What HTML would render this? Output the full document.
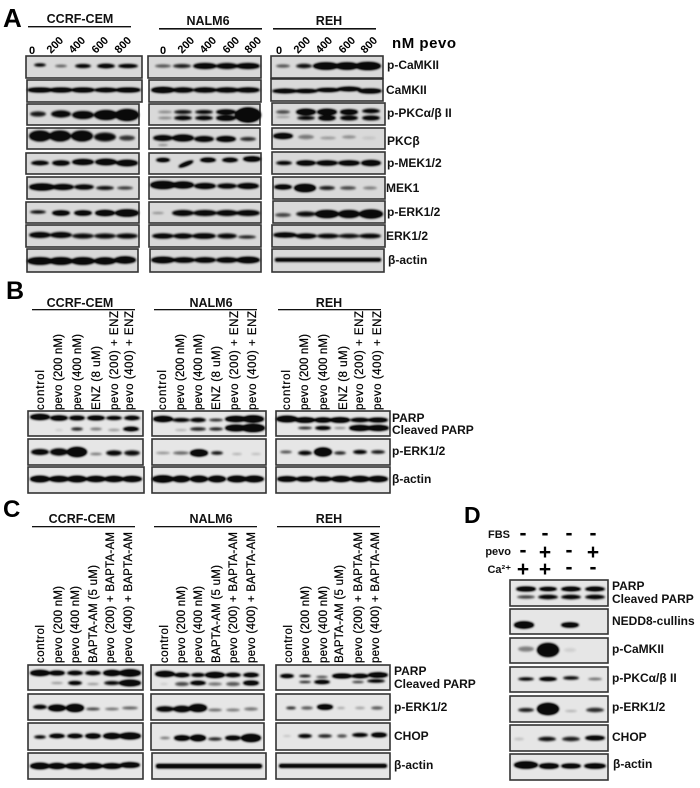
<!DOCTYPE html>
<html><head><meta charset="utf-8"><style>
html,body{margin:0;padding:0;background:#fff}
svg{display:block}
text{font-family:"Liberation Sans",sans-serif;fill:#000}
.h{font-weight:bold;font-size:12.5px;text-anchor:middle;fill:#111}
.l{font-weight:bold;font-size:12px;fill:#111}
.n{font-weight:bold;font-size:11px}
.v{font-size:11.5px;stroke:#000;stroke-width:.25}
.b{fill:#d9d9d9;stroke:#333;stroke-width:1.6}
.c{fill:#e6e6e6;stroke:#333;stroke-width:1.6}
.P{font-weight:bold;font-size:26px}
.s{font-weight:bold;font-size:21px;text-anchor:middle}
</style></head><body>
<svg width="700" height="788" viewBox="0 0 700 788" xmlns="http://www.w3.org/2000/svg">
<defs><filter id="f" x="-5%" y="-5%" width="110%" height="110%" color-interpolation-filters="sRGB"><feGaussianBlur stdDeviation="1"/><feComponentTransfer><feFuncA type="linear" slope="1.35"/></feComponentTransfer></filter></defs>

<!-- Panel A -->
<text class="P" x="3" y="27">A</text>
<text class="h" x="80" y="23">CCRF-CEM</text><text class="h" x="208" y="25">NALM6</text><text class="h" x="329" y="25">REH</text>
<rect x="28" y="26" width="103" height="1.4" fill="#111"/><rect x="159" y="28" width="103" height="1.6" fill="#111"/><rect x="273" y="28" width="103" height="1.6" fill="#111"/>
<text class="n" x="29" y="54">0</text><text class="n" transform="translate(51,54) rotate(-45)">200</text><text class="n" transform="translate(73,54) rotate(-45)">400</text><text class="n" transform="translate(96,54) rotate(-45)">600</text><text class="n" transform="translate(119,54) rotate(-45)">800</text>
<text class="n" x="160" y="54">0</text><text class="n" transform="translate(182,54) rotate(-45)">200</text><text class="n" transform="translate(204,54) rotate(-45)">400</text><text class="n" transform="translate(227,54) rotate(-45)">600</text><text class="n" transform="translate(249,54) rotate(-45)">800</text>
<text class="n" x="276" y="54">0</text><text class="n" transform="translate(298,54) rotate(-45)">200</text><text class="n" transform="translate(320,54) rotate(-45)">400</text><text class="n" transform="translate(343,54) rotate(-45)">600</text><text class="n" transform="translate(365,54) rotate(-45)">800</text>
<text x="392" y="48" font-weight="bold" font-size="15" textLength="64">nM pevo</text>

<rect class="b" x="26" y="56" width="116" height="22"/><rect class="b" x="27" y="80" width="115" height="22"/><rect class="b" x="27" y="104" width="112" height="21"/><rect class="b" x="27" y="128" width="112" height="21"/><rect class="b" x="26" y="153" width="113" height="21"/><rect class="b" x="27" y="177" width="112" height="22"/><rect class="b" x="26" y="202" width="113" height="21"/><rect class="b" x="26" y="225" width="113" height="22"/><rect class="b" x="27" y="249" width="111" height="23"/>
<rect class="b" x="148" y="56" width="113" height="22"/><rect class="b" x="149" y="80" width="112" height="22"/><rect class="b" x="149" y="104" width="111" height="21"/><rect class="b" x="149" y="128" width="111" height="21"/><rect class="b" x="149" y="153" width="112" height="21"/><rect class="b" x="149" y="177" width="112" height="22"/><rect class="b" x="149" y="202" width="112" height="21"/><rect class="b" x="149" y="225" width="112" height="22"/><rect class="b" x="150" y="249" width="111" height="23"/>
<rect class="b" x="271" y="56" width="112" height="22"/><rect class="b" x="271" y="79" width="112" height="22"/><rect class="b" x="272" y="103" width="113" height="22"/><rect class="b" x="272" y="128" width="113" height="21"/><rect class="b" x="272" y="152" width="113" height="22"/><rect class="b" x="273" y="177" width="112" height="22"/><rect class="b" x="273" y="201" width="112" height="22"/><rect class="b" x="272" y="225" width="113" height="22"/><rect class="b" x="272" y="249" width="112" height="23"/>

<g filter="url(#f)" fill="#0a0a0a">
<ellipse cx="40" cy="65" rx="6" ry="1.6" opacity=".85"/><ellipse cx="61" cy="66" rx="6" ry="1.2" opacity=".5"/><ellipse cx="83" cy="66" rx="8" ry="2" opacity=".85"/><ellipse cx="106" cy="66" rx="9" ry="2.2" opacity=".9"/><ellipse cx="128" cy="66" rx="10" ry="2" opacity=".9"/>
<ellipse cx="40" cy="90" rx="13" ry="2.4"/><ellipse cx="61" cy="90" rx="12" ry="2.4"/><ellipse cx="83" cy="90" rx="12" ry="2.4"/><ellipse cx="106" cy="90" rx="12" ry="2.2"/><ellipse cx="128" cy="90" rx="13" ry="2.4"/>
<ellipse cx="38" cy="114" rx="8" ry="2.6" opacity=".7"/><ellipse cx="61" cy="114" rx="10" ry="3.6" opacity=".8"/><ellipse cx="83" cy="115" rx="11" ry="4" opacity=".85"/><ellipse cx="106" cy="115" rx="12" ry="5" opacity=".9"/><ellipse cx="127" cy="115" rx="12" ry="6" opacity=".92"/>
<ellipse cx="40" cy="136" rx="11" ry="5.5" opacity=".85"/><ellipse cx="60" cy="136" rx="11" ry="5.5" opacity=".85"/><ellipse cx="82" cy="136" rx="11" ry="5.5" opacity=".85"/><ellipse cx="105" cy="137" rx="11" ry="4.5" opacity=".75"/><ellipse cx="127" cy="138" rx="8" ry="2.6" opacity=".6"/>
<ellipse cx="40" cy="163" rx="9" ry="2.2" opacity=".9"/><ellipse cx="61" cy="163" rx="9" ry="2.6" opacity=".9"/><ellipse cx="83" cy="162" rx="11" ry="3" opacity=".95"/><ellipse cx="106" cy="162" rx="11" ry="3.2" opacity=".95"/><ellipse cx="127" cy="163" rx="11" ry="3.2" opacity=".95"/>
<ellipse cx="42" cy="187" rx="13" ry="3.5" opacity=".95"/><ellipse cx="63" cy="187" rx="11" ry="3" opacity=".9"/><ellipse cx="84" cy="187" rx="10" ry="2.6" opacity=".85"/><ellipse cx="105" cy="188" rx="9" ry="2" opacity=".75"/><ellipse cx="125" cy="188" rx="8" ry="1.6" opacity=".6"/>
<ellipse cx="38" cy="212" rx="8" ry="1.6" opacity=".8"/><ellipse cx="61" cy="213" rx="9" ry="2.6" opacity=".95"/><ellipse cx="83" cy="213" rx="9" ry="2.6" opacity=".95"/><ellipse cx="105" cy="213" rx="10" ry="3"/><ellipse cx="127" cy="213" rx="12" ry="3.6"/>
<ellipse cx="40" cy="235" rx="11" ry="3" opacity=".85"/><ellipse cx="61" cy="235" rx="11" ry="3" opacity=".85"/><ellipse cx="83" cy="236" rx="11" ry="2.6" opacity=".75"/><ellipse cx="105" cy="236" rx="11" ry="2.6" opacity=".75"/><ellipse cx="127" cy="236" rx="11" ry="2.6" opacity=".78"/>
<ellipse cx="40" cy="261" rx="13" ry="3.8" opacity=".95"/><ellipse cx="61" cy="261" rx="12" ry="3.8" opacity=".95"/><ellipse cx="83" cy="261" rx="12" ry="3.8" opacity=".95"/><ellipse cx="105" cy="261" rx="11" ry="3.6" opacity=".95"/><ellipse cx="125" cy="260" rx="11" ry="3.6" opacity=".95"/>

<ellipse cx="163" cy="66" rx="8" ry="1.6" opacity=".5"/><ellipse cx="182" cy="66" rx="9" ry="2" opacity=".7"/><ellipse cx="205" cy="66" rx="12" ry="3" opacity=".9"/><ellipse cx="227" cy="66" rx="11" ry="3" opacity=".85"/><ellipse cx="248" cy="66" rx="12" ry="3" opacity=".9"/>
<ellipse cx="163" cy="90" rx="12" ry="3"/><ellipse cx="183" cy="90" rx="11" ry="2.6" opacity=".9"/><ellipse cx="205" cy="90" rx="12" ry="2.6" opacity=".9"/><ellipse cx="227" cy="90" rx="12" ry="2.6" opacity=".9"/><ellipse cx="248" cy="90" rx="12" ry="2.6" opacity=".9"/>
<ellipse cx="165" cy="112" rx="7" ry="1.4" opacity=".3"/><ellipse cx="165" cy="118" rx="7" ry="1.4" opacity=".3"/><ellipse cx="183" cy="112" rx="9" ry="2" opacity=".75"/><ellipse cx="183" cy="118" rx="9" ry="2.2" opacity=".85"/><ellipse cx="204" cy="112" rx="9" ry="2" opacity=".8"/><ellipse cx="204" cy="118" rx="9" ry="2.2" opacity=".85"/><ellipse cx="226" cy="112" rx="10" ry="2.6" opacity=".9"/><ellipse cx="226" cy="118" rx="10" ry="2.8" opacity=".9"/><ellipse cx="248" cy="115" rx="13" ry="7.5"/>
<ellipse cx="163" cy="138" rx="10" ry="3" opacity=".85"/><ellipse cx="163" cy="145" rx="5" ry="1" opacity=".3"/><ellipse cx="183" cy="138" rx="11" ry="3.5" opacity=".9"/><ellipse cx="204" cy="139" rx="10" ry="3" opacity=".85"/><ellipse cx="226" cy="139" rx="10" ry="3" opacity=".9"/><ellipse cx="248" cy="139" rx="8" ry="2" opacity=".65"/>
<ellipse cx="163" cy="160" rx="7" ry="2"/><ellipse cx="186" cy="164" rx="8" ry="2" transform="rotate(-22 186 164)"/><ellipse cx="208" cy="160" rx="8" ry="2.2"/><ellipse cx="230" cy="160" rx="8" ry="2.2" opacity=".95"/><ellipse cx="252" cy="159" rx="9" ry="2.6"/>
<ellipse cx="163" cy="185" rx="13" ry="4" opacity=".95"/><ellipse cx="183" cy="185" rx="11" ry="3.5" opacity=".95"/><ellipse cx="205" cy="186" rx="11" ry="3" opacity=".9"/><ellipse cx="227" cy="186" rx="10" ry="2.6" opacity=".85"/><ellipse cx="248" cy="186" rx="11" ry="3" opacity=".9"/>
<ellipse cx="158" cy="213" rx="6" ry="1" opacity=".3"/><ellipse cx="183" cy="213" rx="11" ry="3" opacity=".85"/><ellipse cx="205" cy="213" rx="12" ry="3" opacity=".85"/><ellipse cx="227" cy="213" rx="11" ry="3" opacity=".85"/><ellipse cx="248" cy="213" rx="12" ry="3" opacity=".85"/>
<ellipse cx="163" cy="236" rx="11" ry="2.6" opacity=".85"/><ellipse cx="183" cy="236" rx="10" ry="2.6" opacity=".85"/><ellipse cx="204" cy="236" rx="12" ry="2.8" opacity=".85"/><ellipse cx="227" cy="236" rx="10" ry="2.6" opacity=".78"/><ellipse cx="247" cy="237" rx="9" ry="1.6" opacity=".7"/>
<ellipse cx="163" cy="260" rx="12" ry="3.2" opacity=".95"/><ellipse cx="184" cy="260" rx="11" ry="2.8" opacity=".9"/><ellipse cx="205" cy="260" rx="11" ry="2.8" opacity=".9"/><ellipse cx="227" cy="260" rx="11" ry="2.8" opacity=".9"/><ellipse cx="248" cy="260" rx="12" ry="3.2" opacity=".95"/>

<ellipse cx="283" cy="66" rx="7" ry="1.6" opacity=".5"/><ellipse cx="304" cy="66" rx="8" ry="2.2" opacity=".75"/><ellipse cx="326" cy="66" rx="13" ry="3.6"/><ellipse cx="347" cy="66" rx="12" ry="3.6"/><ellipse cx="368" cy="66" rx="13" ry="4"/>
<ellipse cx="285" cy="91" rx="13" ry="2.2"/><ellipse cx="306" cy="91" rx="12" ry="2"/><ellipse cx="328" cy="90" rx="12" ry="2"/><ellipse cx="349" cy="89" rx="12" ry="2.2"/><ellipse cx="370" cy="91" rx="12" ry="2.4"/>
<ellipse cx="283" cy="112" rx="7" ry="1.8" opacity=".55"/><ellipse cx="283" cy="117" rx="7" ry="1" opacity=".25"/><ellipse cx="306" cy="112" rx="10" ry="3.2" opacity=".95"/><ellipse cx="306" cy="118" rx="9" ry="2" opacity=".8"/><ellipse cx="327" cy="112" rx="10" ry="3.2" opacity=".95"/><ellipse cx="327" cy="118" rx="9" ry="2.6" opacity=".9"/><ellipse cx="349" cy="112" rx="9" ry="2.8" opacity=".92"/><ellipse cx="349" cy="118" rx="9" ry="2.4" opacity=".85"/><ellipse cx="371" cy="111" rx="9" ry="2.2" opacity=".85"/><ellipse cx="371" cy="118" rx="9" ry="2.4" opacity=".85"/>
<ellipse cx="283" cy="136" rx="10" ry="3" opacity=".95"/><ellipse cx="306" cy="137" rx="8" ry="2.2" opacity=".35"/><ellipse cx="328" cy="138" rx="8" ry="1.4" opacity=".25"/><ellipse cx="349" cy="137" rx="7" ry="1.6" opacity=".28"/><ellipse cx="369" cy="138" rx="7" ry="1.6" opacity=".08"/>
<ellipse cx="284" cy="163" rx="8" ry="2" opacity=".85"/><ellipse cx="306" cy="163" rx="10" ry="2.6" opacity=".95"/><ellipse cx="327" cy="163" rx="11" ry="2.6" opacity=".92"/><ellipse cx="349" cy="163" rx="11" ry="2.6" opacity=".95"/><ellipse cx="371" cy="163" rx="10" ry="3" opacity=".95"/>
<ellipse cx="283" cy="187" rx="9" ry="2.5" opacity=".95"/><ellipse cx="305" cy="188" rx="11" ry="4"/><ellipse cx="327" cy="188" rx="8" ry="2" opacity=".7"/><ellipse cx="348" cy="188" rx="8" ry="1.8" opacity=".55"/><ellipse cx="370" cy="188" rx="7" ry="1.5" opacity=".35"/>
<ellipse cx="283" cy="215" rx="8" ry="2" opacity=".55"/><ellipse cx="306" cy="214" rx="10" ry="2.6" opacity=".75"/><ellipse cx="327" cy="214" rx="12" ry="4" opacity=".95"/><ellipse cx="349" cy="214" rx="11" ry="4" opacity=".9"/><ellipse cx="371" cy="214" rx="12" ry="4.5" opacity=".95"/>
<ellipse cx="285" cy="235" rx="12" ry="2.6" opacity=".9"/><ellipse cx="306" cy="236" rx="11" ry="2.6" opacity=".85"/><ellipse cx="328" cy="236" rx="11" ry="2.4" opacity=".8"/><ellipse cx="349" cy="236" rx="11" ry="2.2" opacity=".75"/><ellipse cx="370" cy="236" rx="11" ry="2.4" opacity=".8"/>
<rect x="275" y="258" width="106" height="3.6" rx="1.5" opacity=".95"/>
</g>

<text class="l" x="387" y="69">p-CaMKII</text><text class="l" x="386" y="94">CaMKII</text><text class="l" x="387" y="117">p-PKCα/β II</text><text class="l" x="387" y="145">PKCβ</text><text class="l" x="387" y="167">p-MEK1/2</text><text class="l" x="386" y="192">MEK1</text><text class="l" x="387" y="216">p-ERK1/2</text><text class="l" x="386" y="240">ERK1/2</text><text class="l" x="388" y="264">β-actin</text>

<!-- Panel B -->
<text class="P" x="6" y="299" style="font-size:25px">B</text>
<text class="h" x="80" y="307">CCRF-CEM</text><text class="h" x="211" y="307">NALM6</text><text class="h" x="329" y="307">REH</text>
<rect x="32" y="309" width="103" height="1.3" fill="#111"/><rect x="154" y="309" width="103" height="1.3" fill="#111"/><rect x="278" y="309" width="103" height="1.3" fill="#111"/>

<text class="v" transform="translate(44,410) rotate(-90)" textLength="40">control</text><text class="v" transform="translate(62,410) rotate(-90)" textLength="76">pevo (200 nM)</text><text class="v" transform="translate(81,410) rotate(-90)" textLength="76">pevo (400 nM)</text><text class="v" transform="translate(100,410) rotate(-90)" textLength="64">ENZ (8 uM)</text><text class="v" transform="translate(118,410) rotate(-90)" textLength="99">pevo (200) + ENZ</text><text class="v" transform="translate(133,410) rotate(-90)" textLength="99">pevo (400) + ENZ</text>
<text class="v" transform="translate(166,410) rotate(-90)" textLength="40">control</text><text class="v" transform="translate(184,410) rotate(-90)" textLength="76">pevo (200 nM)</text><text class="v" transform="translate(202,410) rotate(-90)" textLength="76">pevo (400 nM)</text><text class="v" transform="translate(220,410) rotate(-90)" textLength="64">ENZ (8 uM)</text><text class="v" transform="translate(238,410) rotate(-90)" textLength="99">pevo (200) + ENZ</text><text class="v" transform="translate(256,410) rotate(-90)" textLength="99">pevo (400) + ENZ</text>
<text class="v" transform="translate(290,410) rotate(-90)" textLength="40">control</text><text class="v" transform="translate(308,410) rotate(-90)" textLength="76">pevo (200 nM)</text><text class="v" transform="translate(327,410) rotate(-90)" textLength="76">pevo (400 nM)</text><text class="v" transform="translate(347,410) rotate(-90)" textLength="64">ENZ (8 uM)</text><text class="v" transform="translate(363,410) rotate(-90)" textLength="99">pevo (200) + ENZ</text><text class="v" transform="translate(381,410) rotate(-90)" textLength="99">pevo (400) + ENZ</text>

<rect class="c" x="28" y="411" width="115" height="25"/><rect class="c" x="28" y="439" width="115" height="26"/><rect class="c" x="28" y="467" width="116" height="26"/>
<rect class="c" x="152" y="411" width="114" height="25"/><rect class="c" x="152" y="439" width="114" height="26"/><rect class="c" x="152" y="467" width="114" height="26"/>
<rect class="c" x="276" y="411" width="114" height="25"/><rect class="c" x="276" y="439" width="114" height="26"/><rect class="c" x="276" y="467" width="114" height="26"/>

<g filter="url(#f)" fill="#0a0a0a">
<ellipse cx="40" cy="417" rx="10" ry="3"/><ellipse cx="59" cy="418" rx="9" ry="2.6" opacity=".95"/><ellipse cx="77" cy="418" rx="8" ry="2.4" opacity=".9"/><ellipse cx="96" cy="418" rx="9" ry="2.4" opacity=".95"/><ellipse cx="114" cy="418" rx="8" ry="2" opacity=".9"/><ellipse cx="132" cy="418" rx="8" ry="2.2" opacity=".9"/>
<ellipse cx="59" cy="430" rx="4" ry="1" opacity=".1"/><ellipse cx="77" cy="429" rx="6" ry="1.6" opacity=".7"/><ellipse cx="96" cy="429" rx="6" ry="1.4" opacity=".4"/><ellipse cx="114" cy="430" rx="6" ry="1.3" opacity=".28"/><ellipse cx="131" cy="429" rx="8" ry="2.2" opacity=".95"/>
<ellipse cx="40" cy="452" rx="9" ry="3" opacity=".85"/><ellipse cx="59" cy="452" rx="9" ry="3.6" opacity=".85"/><ellipse cx="77" cy="452" rx="10" ry="5"/><ellipse cx="96" cy="454" rx="6" ry="1.2" opacity=".4"/><ellipse cx="114" cy="453" rx="8" ry="2.6" opacity=".8"/><ellipse cx="132" cy="453" rx="8" ry="2.6" opacity=".75"/>
<ellipse cx="40" cy="479" rx="10" ry="3.2"/><ellipse cx="59" cy="479" rx="10" ry="3"/><ellipse cx="77" cy="479" rx="10" ry="3.2"/><ellipse cx="96" cy="479" rx="10" ry="3"/><ellipse cx="114" cy="479" rx="10" ry="3"/><ellipse cx="132" cy="479" rx="10" ry="3"/>

<ellipse cx="163" cy="419" rx="10" ry="3"/><ellipse cx="181" cy="420" rx="9" ry="2" opacity=".85"/><ellipse cx="198" cy="420" rx="8" ry="2.2" opacity=".85"/><ellipse cx="216" cy="420" rx="7" ry="1.4" opacity=".7"/><ellipse cx="236" cy="419" rx="11" ry="3"/><ellipse cx="253" cy="419" rx="11" ry="3.6"/>
<ellipse cx="181" cy="430" rx="6" ry="1" opacity=".2"/><ellipse cx="198" cy="429" rx="8" ry="1.8" opacity=".7"/><ellipse cx="216" cy="429" rx="7" ry="1.6" opacity=".7"/><ellipse cx="236" cy="428" rx="11" ry="3.4" opacity=".95"/><ellipse cx="253" cy="428" rx="12" ry="4"/>
<ellipse cx="163" cy="453" rx="7" ry="1.2" opacity=".3"/><ellipse cx="181" cy="453" rx="8" ry="1.6" opacity=".45"/><ellipse cx="199" cy="453" rx="9" ry="3.6"/><ellipse cx="217" cy="453" rx="6" ry="1.8" opacity=".75"/><ellipse cx="237" cy="454" rx="5" ry="1" opacity=".2"/><ellipse cx="256" cy="454" rx="5" ry="1" opacity=".15"/>
<ellipse cx="163" cy="479" rx="11" ry="3.6"/><ellipse cx="181" cy="479" rx="9" ry="3.2"/><ellipse cx="199" cy="479" rx="9" ry="3.2"/><ellipse cx="217" cy="479" rx="9" ry="3.2"/><ellipse cx="237" cy="479" rx="10" ry="3.2"/><ellipse cx="254" cy="479" rx="10" ry="3.2"/>

<ellipse cx="287" cy="419" rx="11" ry="3.2"/><ellipse cx="305" cy="420" rx="10" ry="2.8"/><ellipse cx="323" cy="420" rx="9" ry="2.6" opacity=".95"/><ellipse cx="340" cy="420" rx="10" ry="2.8"/><ellipse cx="360" cy="420" rx="10" ry="2.2" opacity=".9"/><ellipse cx="378" cy="420" rx="10" ry="2.4" opacity=".95"/>
<ellipse cx="305" cy="428" rx="7" ry="1.2" opacity=".75"/><ellipse cx="323" cy="428" rx="8" ry="2" opacity=".9"/><ellipse cx="340" cy="428" rx="6" ry="1" opacity=".35"/><ellipse cx="360" cy="428" rx="11" ry="3" opacity=".95"/><ellipse cx="378" cy="428" rx="11" ry="3" opacity=".95"/>
<ellipse cx="286" cy="452" rx="6" ry="1.4" opacity=".55"/><ellipse cx="305" cy="453" rx="7" ry="2.2" opacity=".8"/><ellipse cx="323" cy="452" rx="9" ry="4.5"/><ellipse cx="340" cy="453" rx="6" ry="1.6" opacity=".7"/><ellipse cx="360" cy="452" rx="7" ry="2" opacity=".85"/><ellipse cx="378" cy="452" rx="7" ry="1.8" opacity=".75"/>
<ellipse cx="287" cy="479" rx="10" ry="2.8"/><ellipse cx="305" cy="479" rx="9" ry="2.6"/><ellipse cx="323" cy="479" rx="9" ry="2.6"/><ellipse cx="341" cy="479" rx="10" ry="3"/><ellipse cx="360" cy="479" rx="10" ry="3"/><ellipse cx="378" cy="479" rx="10" ry="3"/>
</g>
<text class="l" x="392" y="422">PARP</text><text class="l" x="392" y="434">Cleaved PARP</text><text class="l" x="392" y="455">p-ERK1/2</text><text class="l" x="392" y="483">β-actin</text>

<!-- Panel C -->
<text class="P" x="3" y="517" style="font-size:24px">C</text>
<text class="h" x="82" y="523">CCRF-CEM</text><text class="h" x="211" y="523">NALM6</text><text class="h" x="329" y="523">REH</text>
<rect x="32" y="526" width="103" height="1.3" fill="#111"/><rect x="154" y="526" width="103" height="1.3" fill="#111"/><rect x="277" y="526" width="103" height="1.3" fill="#111"/>

<text class="v" transform="translate(44,663) rotate(-90)" textLength="38">control</text><text class="v" transform="translate(62,663) rotate(-90)" textLength="77">pevo (200 nM)</text><text class="v" transform="translate(79,663) rotate(-90)" textLength="77">pevo (400 nM)</text><text class="v" transform="translate(97,663) rotate(-90)" textLength="98">BAPTA-AM (5 uM)</text><text class="v" transform="translate(114,663) rotate(-90)" textLength="131">pevo (200) + BAPTA-AM</text><text class="v" transform="translate(132,663) rotate(-90)" textLength="131">pevo (400) + BAPTA-AM</text>
<text class="v" transform="translate(168,663) rotate(-90)" textLength="38">control</text><text class="v" transform="translate(185,663) rotate(-90)" textLength="77">pevo (200 nM)</text><text class="v" transform="translate(202,663) rotate(-90)" textLength="77">pevo (400 nM)</text><text class="v" transform="translate(220,663) rotate(-90)" textLength="98">BAPTA-AM (5 uM)</text><text class="v" transform="translate(237,663) rotate(-90)" textLength="131">pevo (200) + BAPTA-AM</text><text class="v" transform="translate(255,663) rotate(-90)" textLength="131">pevo (400) + BAPTA-AM</text>
<text class="v" transform="translate(292,663) rotate(-90)" textLength="38">control</text><text class="v" transform="translate(309,663) rotate(-90)" textLength="77">pevo (200 nM)</text><text class="v" transform="translate(327,663) rotate(-90)" textLength="77">pevo (400 nM)</text><text class="v" transform="translate(343,663) rotate(-90)" textLength="98">BAPTA-AM (5 uM)</text><text class="v" transform="translate(362,663) rotate(-90)" textLength="131">pevo (200) + BAPTA-AM</text><text class="v" transform="translate(379,663) rotate(-90)" textLength="131">pevo (400) + BAPTA-AM</text>

<rect class="c" x="28" y="665" width="115" height="25"/><rect class="c" x="28" y="694" width="115" height="26"/><rect class="c" x="28" y="723" width="115" height="27"/><rect class="c" x="28" y="753" width="115" height="26"/>
<rect class="c" x="151" y="665" width="113" height="25"/><rect class="c" x="151" y="694" width="113" height="26"/><rect class="c" x="151" y="723" width="113" height="27"/><rect class="c" x="152" y="753" width="114" height="26"/>
<rect class="c" x="276" y="665" width="114" height="25"/><rect class="c" x="276" y="694" width="114" height="26"/><rect class="c" x="276" y="723" width="114" height="27"/><rect class="c" x="276" y="753" width="114" height="26"/>

<g filter="url(#f)" fill="#0a0a0a">
<ellipse cx="40" cy="673" rx="10" ry="3"/><ellipse cx="57" cy="673" rx="8" ry="2.4" opacity=".95"/><ellipse cx="75" cy="673" rx="8" ry="2.2" opacity=".9"/><ellipse cx="93" cy="673" rx="8" ry="2.2" opacity=".9"/><ellipse cx="112" cy="673" rx="9" ry="3"/><ellipse cx="130" cy="673" rx="11" ry="3.6"/>
<ellipse cx="57" cy="683" rx="6" ry="1" opacity=".3"/><ellipse cx="75" cy="683" rx="7" ry="2" opacity=".9"/><ellipse cx="93" cy="684" rx="6" ry="1" opacity=".3"/><ellipse cx="112" cy="683" rx="8" ry="2" opacity=".8"/><ellipse cx="130" cy="683" rx="11" ry="3.2"/>
<ellipse cx="40" cy="707" rx="7" ry="2.2" opacity=".85"/><ellipse cx="57" cy="708" rx="9" ry="3.4" opacity=".95"/><ellipse cx="75" cy="708" rx="9" ry="4"/><ellipse cx="93" cy="709" rx="7" ry="1.4" opacity=".6"/><ellipse cx="112" cy="709" rx="7" ry="1.2" opacity=".45"/><ellipse cx="130" cy="708" rx="8" ry="1.4" opacity=".5"/>
<ellipse cx="40" cy="737" rx="6" ry="1.6" opacity=".85"/><ellipse cx="57" cy="736" rx="8" ry="2.2" opacity=".95"/><ellipse cx="75" cy="736" rx="8" ry="2.2" opacity=".95"/><ellipse cx="93" cy="736" rx="8" ry="2.6" opacity=".95"/><ellipse cx="112" cy="736" rx="9" ry="3"/><ellipse cx="130" cy="736" rx="11" ry="3.4"/>
<ellipse cx="40" cy="766" rx="10" ry="3.2"/><ellipse cx="57" cy="766" rx="9" ry="3"/><ellipse cx="75" cy="766" rx="10" ry="3"/><ellipse cx="93" cy="766" rx="10" ry="3"/><ellipse cx="112" cy="766" rx="10" ry="2.8"/><ellipse cx="130" cy="765" rx="10" ry="2.8"/>

<ellipse cx="165" cy="674" rx="10" ry="3"/><ellipse cx="182" cy="675" rx="8" ry="2.2" opacity=".95"/><ellipse cx="198" cy="675" rx="7" ry="2" opacity=".9"/><ellipse cx="215" cy="675" rx="10" ry="3"/><ellipse cx="233" cy="675" rx="8" ry="2.2" opacity=".9"/><ellipse cx="251" cy="675" rx="8" ry="2.2" opacity=".95"/>
<ellipse cx="164" cy="684" rx="4" ry="1" opacity=".1"/><ellipse cx="182" cy="684" rx="7" ry="2" opacity=".55"/><ellipse cx="198" cy="683" rx="8" ry="2.2" opacity=".92"/><ellipse cx="215" cy="684" rx="7" ry="1.6" opacity=".4"/><ellipse cx="233" cy="684" rx="7" ry="2" opacity=".5"/><ellipse cx="251" cy="683" rx="8" ry="2.4" opacity=".95"/>
<ellipse cx="165" cy="709" rx="9" ry="2.8" opacity=".85"/><ellipse cx="182" cy="709" rx="9" ry="3.2" opacity=".9"/><ellipse cx="198" cy="708" rx="9" ry="4" opacity=".95"/><ellipse cx="215" cy="710" rx="7" ry="1.4" opacity=".45"/><ellipse cx="233" cy="710" rx="7" ry="1.4" opacity=".4"/><ellipse cx="251" cy="709" rx="7" ry="1.6" opacity=".4"/>
<ellipse cx="165" cy="738" rx="5" ry="1.2" opacity=".4"/><ellipse cx="182" cy="738" rx="8" ry="2.8" opacity=".95"/><ellipse cx="198" cy="738" rx="8" ry="3.2"/><ellipse cx="215" cy="739" rx="7" ry="1.6" opacity=".7"/><ellipse cx="233" cy="738" rx="8" ry="2.4" opacity=".92"/><ellipse cx="251" cy="738" rx="10" ry="4"/>
<rect x="156" y="764" width="106" height="4.2" rx="2"/>

<ellipse cx="287" cy="676" rx="7" ry="2" opacity=".95"/><ellipse cx="305" cy="676" rx="6" ry="1.2" opacity=".85"/><ellipse cx="322" cy="677" rx="6" ry="1.1" opacity=".6"/><ellipse cx="342" cy="676" rx="10" ry="2.4"/><ellipse cx="360" cy="676" rx="9" ry="2.2" opacity=".95"/><ellipse cx="378" cy="675" rx="10" ry="2.6"/>
<ellipse cx="305" cy="682" rx="6" ry="1" opacity=".8"/><ellipse cx="322" cy="682" rx="8" ry="2" opacity=".95"/><ellipse cx="358" cy="682" rx="6" ry="1" opacity=".7"/><ellipse cx="376" cy="681" rx="9" ry="1.6" opacity=".9"/>
<ellipse cx="291" cy="708" rx="5" ry="1.4" opacity=".7"/><ellipse cx="307" cy="708" rx="6" ry="1.6" opacity=".5"/><ellipse cx="325" cy="707" rx="8" ry="2.8" opacity=".98"/><ellipse cx="341" cy="708" rx="4" ry="1" opacity=".25"/><ellipse cx="360" cy="708" rx="5" ry="1.2" opacity=".25"/><ellipse cx="377" cy="708" rx="6" ry="1.6" opacity=".5"/>
<ellipse cx="287" cy="736" rx="4" ry="1" opacity=".12"/><ellipse cx="305" cy="736" rx="7" ry="2" opacity=".85"/><ellipse cx="325" cy="736" rx="7" ry="1.8" opacity=".7"/><ellipse cx="342" cy="736" rx="5" ry="1.6" opacity=".55"/><ellipse cx="360" cy="735" rx="8" ry="2" opacity=".88"/><ellipse cx="379" cy="735" rx="8" ry="2.4" opacity=".95"/>
<rect x="279" y="764" width="108" height="3.8" rx="2"/>
</g>
<text class="l" x="394" y="675">PARP</text><text class="l" x="394" y="688">Cleaved PARP</text><text class="l" x="394" y="711">p-ERK1/2</text><text class="l" x="394" y="740">CHOP</text><text class="l" x="394" y="769">β-actin</text>

<!-- Panel D -->
<text class="P" x="464" y="523" style="font-size:23px">D</text>
<text class="l" x="510" y="538" text-anchor="end" style="font-size:11px">FBS</text><text class="l" x="511" y="555" text-anchor="end" style="font-size:11px">pevo</text><text class="l" x="511" y="573" text-anchor="end" style="font-size:11px">Ca²⁺</text>
<text class="s" x="523" y="540">-</text><text class="s" x="545" y="540">-</text><text class="s" x="569" y="540">-</text><text class="s" x="593" y="540">-</text>
<text class="s" x="523" y="557">-</text><text class="s" x="545" y="559">+</text><text class="s" x="569" y="557">-</text><text class="s" x="593" y="559">+</text>
<text class="s" x="523" y="576">+</text><text class="s" x="545" y="576">+</text><text class="s" x="569" y="574">-</text><text class="s" x="593" y="574">-</text>

<rect class="c" x="510" y="580" width="98" height="26"/><rect class="c" x="510" y="609" width="98" height="25"/><rect class="c" x="510" y="638" width="98" height="25"/><rect class="c" x="510" y="667" width="98" height="25"/><rect class="c" x="510" y="696" width="98" height="26"/><rect class="c" x="510" y="725" width="98" height="26"/><rect class="c" x="510" y="754" width="98" height="26"/>
<g filter="url(#f)" fill="#0a0a0a">
<ellipse cx="526" cy="589" rx="10" ry="2.4"/><ellipse cx="548" cy="589" rx="9" ry="2"/><ellipse cx="571" cy="589" rx="10" ry="2.2"/><ellipse cx="595" cy="589" rx="10" ry="2.2"/>
<ellipse cx="526" cy="597" rx="9" ry="1.6" opacity=".6"/><ellipse cx="548" cy="597" rx="10" ry="2.2" opacity=".85"/><ellipse cx="571" cy="597" rx="10" ry="2.2" opacity=".85"/><ellipse cx="595" cy="597" rx="10" ry="2.2" opacity=".85"/>
<ellipse cx="524" cy="625" rx="10" ry="3.6"/><ellipse cx="570" cy="625" rx="9" ry="2.6" opacity=".95"/>
<ellipse cx="526" cy="649" rx="8" ry="2.6" opacity=".35"/><ellipse cx="548" cy="650" rx="11" ry="7" opacity=".95"/><ellipse cx="570" cy="650" rx="6" ry="2" opacity=".08"/>
<ellipse cx="526" cy="679" rx="8" ry="1.6" opacity=".85"/><ellipse cx="548" cy="679" rx="9" ry="2" opacity=".95"/><ellipse cx="571" cy="678" rx="8" ry="1.8" opacity=".8"/><ellipse cx="595" cy="679" rx="7" ry="1.3" opacity=".45"/>
<ellipse cx="526" cy="710" rx="8" ry="2" opacity=".7"/><ellipse cx="548" cy="709" rx="11" ry="6"/><ellipse cx="571" cy="711" rx="6" ry="1" opacity=".2"/><ellipse cx="595" cy="710" rx="9" ry="2.2" opacity=".65"/>
<ellipse cx="519" cy="739" rx="5" ry="1.2" opacity=".15"/><ellipse cx="547" cy="739" rx="9" ry="2.2" opacity=".75"/><ellipse cx="571" cy="739" rx="9" ry="2.2" opacity=".7"/><ellipse cx="595" cy="738" rx="10" ry="2.4" opacity=".92"/>
<ellipse cx="526" cy="765" rx="12" ry="3.6"/><ellipse cx="549" cy="766" rx="10" ry="2.8"/><ellipse cx="571" cy="766" rx="10" ry="2.4"/><ellipse cx="595" cy="766" rx="11" ry="2.6"/>
</g>
<text class="l" x="612" y="590">PARP</text><text class="l" x="612" y="603">Cleaved PARP</text><text class="l" x="612" y="625">NEDD8-cullins</text><text class="l" x="612" y="653">p-CaMKII</text><text class="l" x="612" y="682">p-PKCα/β II</text><text class="l" x="612" y="711">p-ERK1/2</text><text class="l" x="612" y="741">CHOP</text><text class="l" x="613" y="768">β-actin</text>
</svg>
</body></html>
